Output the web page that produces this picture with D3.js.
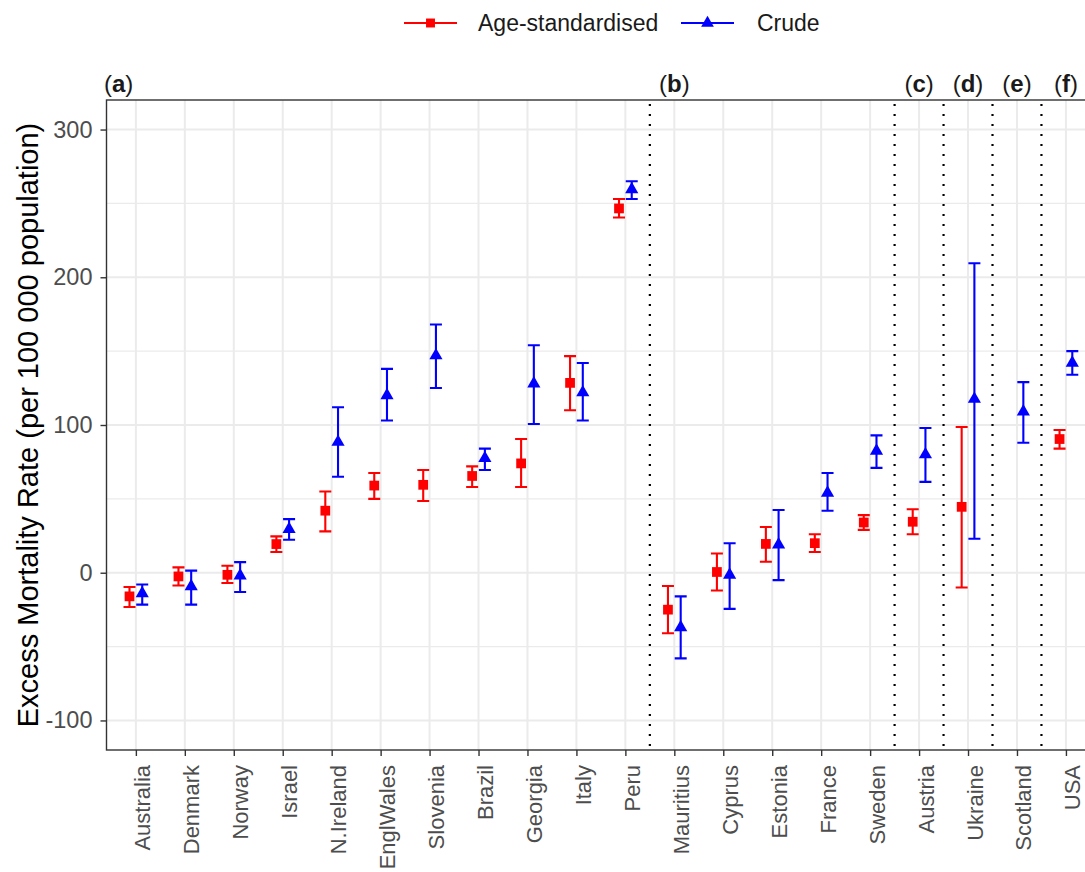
<!DOCTYPE html>
<html>
<head>
<meta charset="utf-8">
<script src="https://cdn.jsdelivr.net/npm/d3@7"></script>
<style>
  body { margin: 0; background: #fff; }
  text { font-family: "Liberation Sans", Arial, sans-serif; }
</style>
</head>
<body>
<svg id="Viz"></svg>
<script>
width = 1085,
height = 872;

// countries in plot order
var countries = ["Australia", "Denmark", "Norway", "Israel", "N.Ireland", "EnglWales", "Slovenia", "Brazil", "Georgia", "Italy", "Peru",
  "Mauritius", "Cyprus", "Estonia", "France", "Sweden", "Austria", "Ukraine", "Scotland", "USA"];

// age-standardised excess mortality (per 100 000) and 95% limits
var ageVal = [-16, -2.5, -1.4, 19.4, 42, 59, 59.5, 65.5, 74, 128.5, 246.6, -25, 0.5, 19.5, 20, 34, 34.5, 44.6, null, 90.5];
var ageLo  = [-23.2, -8.6, -7, 14, 28, 50, 48.6, 58, 58, 110, 240.5, -41, -12, 7.4, 14, 29, 26, -10, null, 84];
var ageHi  = [-9.7, 3.6, 4.7, 24.6, 55, 67.5, 69.5, 72, 90.5, 146.6, 253, -9, 13, 31, 26, 39, 43, 98.6, null, 96.6];

// crude excess mortality and limits
var crudeVal = [-14, -9.3, -2, 29.5, 88.5, 120, 147, 77.5, 128, 122, 259.5, -37, -1.5, 19, 54, 82.5, 80, 117.6, 109, 142];
var crudeLo  = [-21.6, -21.6, -13, 22.3, 65, 103, 125, 69.5, 100.7, 103, 253, -58, -24.5, -5, 42, 71, 61.5, 23, 88, 134];
var crudeHi  = [-8, 1.4, 7.2, 36.3, 112, 138, 168, 84, 154, 142, 265, -16, 20, 42.5, 67.5, 93, 98, 209.5, 129, 150];

var yTicks = [-100, 0, 100, 200, 300];
var yMinor = [-50, 50, 150, 250];

// group separators sit after these countries, labels sit over the first country of a group
var groupEnds = ["Peru", "Sweden", "Austria", "Ukraine", "Scotland"];
var groupLabels = [
  {lab: "a", at: null},
  {lab: "b", at: "Mauritius"},
  {lab: "c", at: "Austria"},
  {lab: "d", at: "Ukraine"},
  {lab: "e", at: "Scotland"},
  {lab: "f", at: "USA"}
];

var series = [
  {name: "Age-standardised", color: "#ff0000", shape: "square", val: ageVal, lo: ageLo, hi: ageHi, side: -1},
  {name: "Crude", color: "#0000ff", shape: "triangle", val: crudeVal, lo: crudeLo, hi: crudeHi, side: 1}
];

function draw() {
  var svg = d3.select("#Viz");
  svg.attr("width", width).attr("height", height);

  var left = 106.5, top = 100, bottom = 750, right = 1095.3;

  var x = d3.scalePoint()
    .domain(countries)
    .range([left, right])
    .padding(0.6);
  var step = x.step();
  var dodge = step * 0.13;

  var y = d3.scaleLinear()
    .domain([-120, 320])
    .range([bottom, top]);

  // grid
  var grid = svg.append("g");
  grid.selectAll("line.minor")
    .data(yMinor)
    .enter()
    .append("line")
      .attr("x1", left).attr("x2", right)
      .attr("y1", function(d){ return y(d) })
      .attr("y2", function(d){ return y(d) })
      .style("stroke", "#ebebeb").style("stroke-width", 1.1);
  grid.selectAll("line.major")
    .data(yTicks)
    .enter()
    .append("line")
      .attr("x1", left).attr("x2", right)
      .attr("y1", function(d){ return y(d) })
      .attr("y2", function(d){ return y(d) })
      .style("stroke", "#ebebeb").style("stroke-width", 2);
  grid.selectAll("line.vert")
    .data(countries)
    .enter()
    .append("line")
      .attr("x1", function(d){ return x(d) })
      .attr("x2", function(d){ return x(d) })
      .attr("y1", top).attr("y2", bottom)
      .style("stroke", "#ebebeb").style("stroke-width", 2);

  // dotted separators
  svg.append("g")
    .selectAll("line")
    .data(groupEnds)
    .enter()
    .append("line")
      .attr("x1", function(d){ return x(d) + step / 2 })
      .attr("x2", function(d){ return x(d) + step / 2 })
      .attr("y1", top + 4).attr("y2", bottom)
      .style("stroke", "black")
      .style("stroke-width", 2.2)
      .style("stroke-dasharray", "2,8");

  // error bars and points
  var cap = 6;
  series.forEach(function(s) {
    var idx = d3.range(countries.length).filter(function(i){ return s.val[i] != null });
    var g = svg.append("g");
    var cx = function(i){ return x(countries[i]) + s.side * dodge };

    g.selectAll("path.bar")
      .data(idx)
      .enter()
      .append("path")
        .attr("d", function(i){
          var xx = cx(i), y0 = y(s.lo[i]), y1 = y(s.hi[i]);
          return "M" + (xx - cap) + "," + y1 + "H" + (xx + cap) +
                 "M" + xx + "," + y1 + "V" + y0 +
                 "M" + (xx - cap) + "," + y0 + "H" + (xx + cap);
        })
        .style("fill", "none")
        .style("stroke", s.color)
        .style("stroke-width", 2.1);

    var sym = s.shape == "square" ? d3.symbol().type(d3.symbolSquare).size(95)
                                   : d3.symbol().type(d3.symbolTriangle).size(75);
    g.selectAll("path.pt")
      .data(idx)
      .enter()
      .append("path")
        .attr("d", sym)
        .attr("transform", function(i){ return "translate(" + cx(i) + "," + y(s.val[i]) + ")" })
        .style("fill", s.color);
  });

  // panel border
  svg.append("rect")
    .attr("x", left).attr("y", top)
    .attr("width", right - left).attr("height", bottom - top)
    .style("fill", "none")
    .style("stroke", "#333333")
    .style("stroke-width", 1.4);

  // y axis (plain hyphen for negatives, like the original)
  var yAxis = svg.append("g")
    .attr("transform", "translate(" + left + ",0)")
    .call(d3.axisLeft(y).tickValues(yTicks).tickFormat(function(d){ return String(d) }).tickSize(6).tickPadding(8));
  yAxis.select(".domain").remove();
  yAxis.selectAll(".tick line").style("stroke", "#333333").style("stroke-width", 1.4);
  yAxis.selectAll(".tick text")
    .style("font-size", "23.5px")
    .style("fill", "#4d4d4d")
    .style("font-family", "Liberation Sans, Arial, sans-serif");

  // x axis
  var xAxis = svg.append("g")
    .attr("transform", "translate(0," + bottom + ")")
    .call(d3.axisBottom(x).tickSize(6).tickPadding(4));
  xAxis.select(".domain").remove();
  xAxis.selectAll(".tick line").style("stroke", "#333333").style("stroke-width", 1.4);
  xAxis.selectAll(".tick text")
    .attr("transform", "rotate(-90)")
    .attr("x", -15)
    .attr("y", 14)
    .attr("dy", null)
    .style("text-anchor", "end")
    .style("font-size", "22px")
    .style("fill", "#4d4d4d")
    .style("font-family", "Liberation Sans, Arial, sans-serif");

  // y title
  svg.append("text")
    .attr("transform", "translate(38," + ((top + bottom) / 2) + ") rotate(-90)")
    .attr("text-anchor", "middle")
    .style("font-size", "29px")
    .style("fill", "black")
    .text("Excess Mortality Rate (per 100 000 population)");

  // group labels
  var gl = svg.append("g")
    .selectAll("text")
    .data(groupLabels)
    .enter()
    .append("text")
      .attr("x", function(d){ return d.at == null ? 104 : x(d.at) })
      .attr("y", 92)
      .attr("text-anchor", function(d){ return d.at == null ? "start" : "middle" })
      .style("font-size", "24px")
      .style("fill", "#1a1a1a");
  gl.append("tspan").text("(");
  gl.append("tspan").style("font-weight", "bold").text(function(d){ return d.lab });
  gl.append("tspan").text(")");

  // legend
  var legend = svg.append("g");
  var legendPos = [{lx: 404, tx: 478}, {lx: 681, tx: 757}];
  series.forEach(function(s, i) {
    var p = legendPos[i];
    legend.append("line")
      .attr("x1", p.lx).attr("x2", p.lx + 53)
      .attr("y1", 23).attr("y2", 23)
      .style("stroke", s.color).style("stroke-width", 2.1);
    var sym = s.shape == "square" ? d3.symbol().type(d3.symbolSquare).size(80)
                                   : d3.symbol().type(d3.symbolTriangle).size(70);
    legend.append("path")
      .attr("d", sym)
      .attr("transform", "translate(" + (p.lx + 26.5) + ",23)")
      .style("fill", s.color);
    legend.append("text")
      .attr("x", p.tx).attr("y", 31)
      .style("font-size", "23px")
      .style("fill", "#1a1a1a")
      .text(s.name);
  });
}

document.addEventListener('DOMContentLoaded', () => {
  draw();
});
</script>
</body>
</html>
